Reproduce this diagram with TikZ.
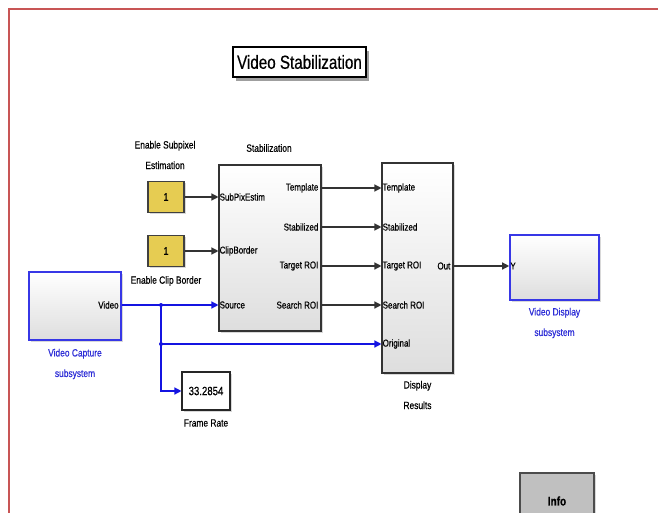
\documentclass[tikz,border=0pt]{standalone}
\usepackage{fontspec}
\setmainfont{Liberation Sans}[FakeStretch=0.8, FakeBold=0.5]
\usetikzlibrary{arrows.meta,shadows}
\definecolor{sigblue}{RGB}{20,20,225}
\definecolor{lblblue}{RGB}{45,45,215}
\definecolor{constyellow}{RGB}{230,204,82}
\definecolor{framered}{RGB}{200,85,85}
\definecolor{infogray}{RGB}{192,192,192}
\tikzset{
  blk/.style={draw=black!80, line width=1.1pt, top color=white, bottom color=black!13,
    rectangle, inner sep=0pt, drop shadow={shadow xshift=1.8pt, shadow yshift=-1.8pt, opacity=0.3}},
  subsys/.style={blk, draw=sigblue!85!white, line width=1.6pt},
  constblk/.style={draw=black!75, line width=1.1pt, fill=constyellow, rectangle, inner sep=0pt,
    minimum width=36pt, minimum height=31pt, font=\fontsize{11}{12}\selectfont,
    drop shadow={shadow xshift=1.5pt, shadow yshift=-1.5pt, opacity=0.3}},
  port/.style={font=\fontsize{10}{11}\selectfont, inner sep=1pt},
  lbl/.style={font=\fontsize{10.5}{20.5}\selectfont, align=center, inner sep=0pt},
  sig/.style={draw=black!80, line width=1.3pt, -{Triangle[length=7pt,width=7pt]}},
  bsig/.style={draw=sigblue, line width=1.3pt, -{Triangle[length=7pt,width=7pt]}},
  bdot/.style={circle, fill=sigblue, inner sep=0pt, minimum size=4pt},
}
\begin{document}
\begin{tikzpicture}[x=1pt,y=-1pt]
\useasboundingbox (0,0) rectangle (658,513);
\clip (0,0) rectangle (658,513);
\fill[white] (0,0) rectangle (658,513);
\draw[framered, line width=1.8pt] (700,9) -- (9,9) -- (9,560);

% title
\node[draw=black, line width=1.1pt, fill=white, minimum width=133pt, minimum height=30pt, inner sep=0pt,
  font=\fontsize{19}{21}\selectfont,
  drop shadow={shadow xshift=3pt, shadow yshift=-4pt, opacity=0.75}] (title) at (299.5,62) {Video Stabilization};

% blocks
\node[blk, minimum width=102pt, minimum height=166pt] (stab) at (270,248) {};
\node[lbl] (stablbl) at (269,148) {Stabilization};

\node[constblk] (c1) at (166,197) {1};
\node[lbl] (c1lbl) at (165,155) {Enable Subpixel\\Estimation};
\node[constblk] (c2) at (166,251) {1};
\node[lbl] (c2lbl) at (166,281) {Enable Clip Border};

\node[blk, minimum width=71pt, minimum height=210pt] (disp) at (417.5,268) {};
\node[lbl] (displbl) at (417.5,395) {Display\\Results};

\node[subsys, minimum width=89pt, minimum height=65pt] (vd) at (554.5,267.5) {};
\node[lbl, text=lblblue] (vdlbl) at (554.5,323) {Video Display\\subsystem};

\node[subsys, minimum width=92pt, minimum height=68pt] (vc) at (75,306) {};
\node[lbl, text=lblblue] (vclbl) at (75,364) {Video Capture\\subsystem};

\node[draw=black!85, line width=1.1pt, fill=white, minimum width=48pt, minimum height=38pt, inner sep=0pt,
  font=\fontsize{12}{13}\selectfont, drop shadow={shadow xshift=1.5pt, shadow yshift=-1.5pt, opacity=0.3}] (fr) at (206,391) {33.2854};
\node[lbl] (frlbl) at (206,423) {Frame Rate};

\node[draw=black!70, line width=1.2pt, fill=infogray, minimum width=74pt, minimum height=56pt, inner sep=0pt,
  drop shadow={shadow xshift=1.5pt, shadow yshift=-1.5pt, opacity=0.3}] (info) at (557,501) {};
\node[font=\bfseries\fontsize{12.5}{13}\selectfont] (infolbl) at (557,501) {Info};

% port rows
\coordinate (r1) at (0,188);
\coordinate (r2) at (0,227);
\coordinate (r3) at (0,266);
\coordinate (r4) at (0,305);
\coordinate (r5) at (0,344);
\coordinate (s1) at (0,197);
\coordinate (s2) at (0,251);

% port labels stabilization
\node[port, anchor=west] (pin1) at (stab.west |- s1) {SubPixEstim};
\node[port, anchor=west] (pin2) at (stab.west |- s2) {ClipBorder};
\node[port, anchor=west] (pin3) at (stab.west |- r4) {Source};
\node[port, anchor=east, xshift=-2pt] (pout1) at (stab.east |- r1) {Template};
\node[port, anchor=east, xshift=-2pt] (pout2) at (stab.east |- r2) {Stabilized};
\node[port, anchor=east, xshift=-2pt] (pout3) at (stab.east |- r3) {Target ROI};
\node[port, anchor=east, xshift=-2pt] (pout4) at (stab.east |- r4) {Search ROI};

% port labels display
\node[port, anchor=west] (d1) at (disp.west |- r1) {Template};
\node[port, anchor=west] (d2) at (disp.west |- r2) {Stabilized};
\node[port, anchor=west] (d3) at (disp.west |- r3) {Target ROI};
\node[port, anchor=west] (d4) at (disp.west |- r4) {Search ROI};
\node[port, anchor=west] (d5) at (disp.west |- r5) {Original};
\node[port, anchor=east, xshift=-2pt] (dout) at (disp.east |- r3) {Out};

\node[port, anchor=west] (vdin) at (vd.west |- r3) {Y};
\node[port, anchor=east, xshift=-2pt] (vcout) at (vc.east |- r4) {Video};

% connectors
\draw[sig] (c1.east) -- (stab.west |- s1);
\draw[sig] (c2.east) -- (stab.west |- s2);
\draw[sig] (stab.east |- r1) -- (disp.west |- r1);
\draw[sig] (stab.east |- r2) -- (disp.west |- r2);
\draw[sig] (stab.east |- r3) -- (disp.west |- r3);
\draw[sig] (stab.east |- r4) -- (disp.west |- r4);
\draw[sig] (disp.east |- r3) -- (vd.west |- r3);

\coordinate (b1) at (161,305);
\coordinate (b2) at (161,344);
\draw[bsig] (vc.east |- r4) -- (stab.west |- r4);
\draw[bsig] (b1) -- (b2) -- (disp.west |- r5);
\draw[bsig] (b2) |- (fr.west);
\node[bdot] (dot1) at (b1) {};
\node[bdot] (dot2) at (b2) {};
\end{tikzpicture}
\end{document}
